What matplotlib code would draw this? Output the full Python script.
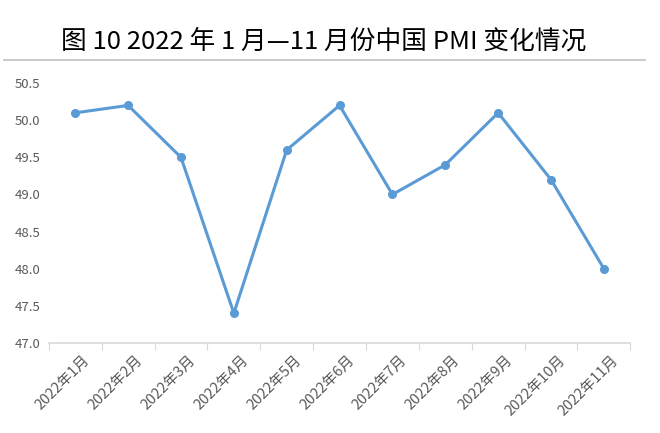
import matplotlib
matplotlib.use('Agg')
import matplotlib.pyplot as plt
from matplotlib.lines import Line2D

plt.rcParams['font.family'] = ['Noto Sans CJK SC', 'DejaVu Sans']

# 2022年1-11月中国制造业PMI
months = ['2022年1月', '2022年2月', '2022年3月', '2022年4月', '2022年5月', '2022年6月',
          '2022年7月', '2022年8月', '2022年9月', '2022年10月', '2022年11月']
pmi = [50.1, 50.2, 49.5, 47.4, 49.6, 50.2, 49.0, 49.4, 50.1, 49.2, 48.0]
yticks = [47.0, 47.5, 48.0, 48.5, 49.0, 49.5, 50.0, 50.5]

fig = plt.figure(figsize=(6.6, 4.33), dpi=100)
ax = fig.add_axes([0.074, 0.208, 0.881, 0.6])

x = list(range(len(months)))
ax.plot(x, pmi, color='#5B9BD5', lw=2.2, marker='o', ms=5.5, zorder=3)

ax.set_xlim(-0.5, len(months) - 0.5)
ax.set_ylim(47.0, 50.5)
ax.set_yticks(yticks)
ax.set_yticklabels([f'{v:.1f}' for v in yticks], color='#595959', fontsize=9.5)
ax.tick_params(axis='y', length=0, pad=6)

# category boundaries as tick marks on the x axis
ax.set_xticks([i - 0.5 for i in range(len(months) + 1)])
ax.set_xticklabels([])
ax.tick_params(axis='x', length=5, color='#d9d9d9', direction='out')
for i, m in enumerate(months):
    ax.text(i + 0.14, 46.86, m, rotation=45, ha='right', va='top',
            fontsize=10.5, color='#595959', rotation_mode='anchor')

for s in ['top', 'right', 'left']:
    ax.spines[s].set_visible(False)
ax.spines['bottom'].set_color('#d9d9d9')
ax.spines['bottom'].set_linewidth(1.2)

fig.text(0.49, 0.905, '图 10 2022 年 1 月—11 月份中国 PMI 变化情况',
         ha='center', va='center', fontsize=18.5, color='black')
fig.add_artist(Line2D([0.006, 0.977], [0.861, 0.861], transform=fig.transFigure,
                      color='#c0c0c0', lw=1.2))

plt.savefig('out.png', dpi=100)
plt.close()
